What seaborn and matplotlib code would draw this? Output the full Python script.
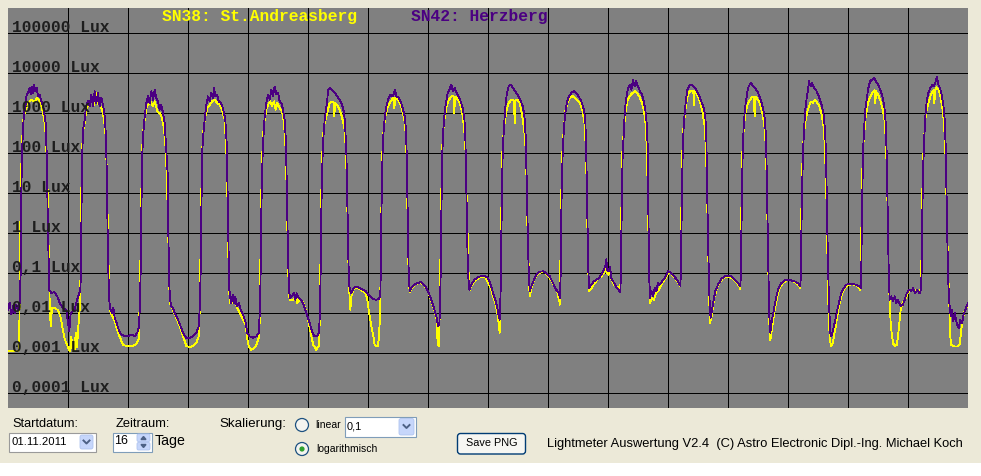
import pandas as pd
import seaborn as sns
import matplotlib.pyplot as plt
from matplotlib.patches import Rectangle, FancyBboxPatch, Circle
from matplotlib.ticker import NullLocator

W, H = 981, 476

# SN42 Herzberg (lila) - Stunden ab 01.11.2011 00:00 und Lux
hours_sn42 = [
    0.0, 0.67, 1.33, 2.0, 2.67, 3.33, 4.0, 4.67,
    5.07, 5.2, 5.33, 5.6, 6.0, 6.4, 6.93, 7.47, 8.0, 8.67, 9.07, 9.6, 10.0, 10.4, 10.93, 11.47, 12.0, 12.67, 13.33, 14.13, 14.67, 15.07, 15.47, 15.73, 16.0, 16.27, 16.53,
    17.33, 18.67, 19.73, 20.67, 22.0, 23.33, 24.0, 24.53, 25.07, 26.67, 27.6, 28.4, 28.93,
    29.2, 29.33, 29.47, 29.73, 30.0, 30.67, 31.2, 32.0, 32.67, 33.33, 34.0, 34.67, 35.33, 36.0, 36.67, 37.33, 38.13, 38.67, 39.2, 39.47, 39.73, 40.0, 40.4,
    40.8, 41.6, 42.13, 42.67, 43.47, 44.27, 45.33, 46.67, 48.0, 49.33, 50.67, 51.73, 52.4, 52.8,
    53.07, 53.2, 53.47, 53.73, 54.13, 54.67, 55.33, 56.0, 56.67, 57.33, 58.0, 58.67, 59.33, 60.0, 60.67, 61.33, 62.0, 62.67, 63.2, 64.0, 64.13, 64.4, 64.8,
    65.33, 66.0, 66.93, 68.0, 69.07, 70.0, 71.33, 72.67, 74.0, 75.33, 76.27, 76.8,
    77.07, 77.2, 77.47, 77.73, 78.27, 78.8, 79.47, 80.0, 80.67, 81.33, 82.0, 82.4, 82.93, 83.6, 84.27, 85.07, 85.73, 86.4, 86.93, 87.47, 87.73, 88.0, 88.27, 88.53, 88.93,
    89.33, 89.87, 90.4, 90.93, 91.47, 92.27, 93.07, 94.0, 94.93, 95.73, 96.67, 98.0, 99.33, 100.27, 100.8,
    101.07, 101.2, 101.47, 101.87, 102.27, 102.67, 103.33, 104.0, 104.67, 105.33, 106.0, 106.67, 107.33, 108.0, 108.67, 109.33, 110.0, 110.67, 111.2, 111.47, 111.73, 112.0, 112.4, 112.8,
    113.6, 114.4, 114.93, 115.47, 116.27, 117.07, 118.0, 118.93, 119.73, 120.67, 121.6, 122.67, 123.73, 124.4, 124.8,
    125.07, 125.2, 125.47, 125.87, 126.27, 126.67, 127.2, 127.73, 128.0, 128.67, 129.33, 130.0, 130.67, 131.73, 132.67, 133.33, 134.0, 134.53, 134.93, 135.33, 135.6, 135.87, 136.13, 136.4, 136.8,
    137.33, 138.13, 138.93, 140.0, 141.07, 142.13, 143.07, 144.0, 145.07, 146.13, 147.2, 148.27, 148.93,
    149.2, 149.33, 149.6, 149.87, 150.27, 150.8, 151.47, 152.27, 153.07, 154.0, 154.8, 155.33, 156.27, 157.07, 157.87, 158.67, 159.2, 159.47, 159.73, 160.0, 160.27, 160.67,
    161.33, 162.4, 163.73, 165.07, 166.4, 167.33, 168.27, 169.33, 170.4, 171.33, 172.0, 172.53, 172.8,
    173.07, 173.2, 173.47, 173.73, 174.13, 174.53, 175.07, 175.73, 176.53, 177.33, 178.0, 178.67, 179.47, 180.27, 181.07, 181.87, 182.53, 182.93, 183.2, 183.47, 183.73, 184.0, 184.53,
    185.33, 186.67, 188.0, 189.33, 190.67, 192.0, 193.07, 194.0, 194.93, 195.73, 196.27, 196.67, 196.93,
    197.2, 197.33, 197.6, 197.87, 198.27, 198.67, 199.07, 199.6, 200.27, 201.07, 202.0, 202.93, 204.0, 205.07, 205.87, 206.53, 207.07, 207.47, 207.73, 208.0, 208.27, 208.67,
    209.33, 210.27, 211.33, 212.67, 214.0, 215.33, 216.67, 218.0, 219.33, 220.27, 220.8,
    221.07, 221.2, 221.47, 221.87, 222.4, 222.93, 223.6, 224.4, 225.33, 226.4, 227.33, 228.27, 229.33, 230.27, 230.93, 231.33, 231.6, 231.87, 232.13, 232.4,
    233.33, 234.4, 235.33, 236.4, 237.33, 238.27, 238.93, 239.33, 239.73, 240.27, 240.8, 241.33, 242.4, 243.33, 244.27, 244.93,
    245.2, 245.33, 245.6, 245.87, 246.27, 246.67, 247.2, 247.87, 248.67, 249.33, 250.0, 250.67, 251.2, 252.0, 252.8, 253.6, 254.27, 254.93, 255.47, 255.87, 256.0, 256.27, 256.53, 256.8,
    257.33, 258.0, 258.67, 259.33, 260.0, 260.67, 261.6, 262.67, 264.0, 265.33, 266.67, 268.0, 268.93,
    269.2, 269.33, 269.6, 269.87, 270.27, 270.67, 271.2, 271.73, 272.53, 273.33, 274.27, 275.33, 276.27, 277.33, 278.27, 278.93, 279.33, 279.6, 279.87, 280.13, 280.4, 280.8, 281.07,
    281.6, 282.27, 282.93, 284.0, 285.33, 286.67, 288.0, 289.33, 290.67, 292.0, 292.93,
    293.2, 293.33, 293.6, 293.87, 294.27, 294.8, 295.47, 296.0, 296.67, 297.33, 298.0, 298.93, 300.0, 301.07, 302.0, 302.67, 303.2, 303.47, 303.73, 304.0, 304.27, 304.53, 304.93,
    305.6, 306.4, 307.33, 308.27, 309.33, 310.67, 312.0, 313.33, 314.67, 316.0, 316.93,
    317.2, 317.33, 317.6, 318.0, 318.4, 318.93, 319.47, 320.0, 320.4, 321.07, 321.6, 322.4, 323.2, 324.0, 324.8, 325.6, 326.27, 326.8, 327.2, 327.47, 327.73, 328.0, 328.4, 328.93, 329.33,
    330.0, 330.93, 331.73, 332.67, 333.33, 334.4, 335.33, 336.67, 338.0, 339.33, 340.67, 341.07,
    341.33, 341.47, 341.73, 342.0, 342.4, 342.93, 343.47, 344.0, 344.8, 345.6, 346.4, 347.2, 348.0, 348.93, 349.73, 350.53, 351.07, 351.47, 351.73, 352.0, 352.27, 352.67,
    353.33, 354.0, 354.67, 355.33, 356.0, 357.07, 358.0, 358.67, 359.47, 360.4, 361.33, 362.0, 362.93, 363.73, 364.67, 365.2,
    365.47, 365.6, 365.87, 366.13, 366.53, 366.93, 367.47, 368.13, 368.93, 369.73, 370.4, 371.07, 371.6, 372.13, 372.8, 373.47, 374.13, 374.67, 375.07, 375.33, 375.6, 375.87, 376.13, 376.53,
    377.07, 377.6, 378.13, 378.67, 379.47, 380.27, 380.93, 381.6, 382.27, 382.93, 383.73, 384.0,
]
lux_sn42 = [
    0.012, 0.018, 0.0092, 0.0147, 0.010, 0.016, 0.012, 0.018,
    0.1, 1.0, 10, 100, 380, 1000, 1470, 2900, 3200, 4200, 2900, 4600, 3200, 5100, 3500, 4200, 2600, 2900, 1950, 1470, 830, 560, 100, 10, 1.0, 0.18, 0.038,
    0.032, 0.033, 0.026, 0.018, 0.0133, 0.012, 0.0056, 0.0035, 0.010, 0.012, 0.0215, 0.029, 0.038,
    0.12, 1.0, 10, 100, 380, 680, 1470, 1950, 1470, 2900, 1470, 3500, 1780, 3200, 1470, 2400, 1470, 830, 260, 38, 3.2, 0.26, 0.026,
    0.0133, 0.010, 0.0133, 0.0076, 0.0056, 0.0038, 0.0029, 0.0026, 0.0026, 0.0029, 0.0026, 0.0032, 0.0046, 0.0178,
    0.12, 1.0, 10, 100, 320, 830, 1780, 2600, 1780, 3500, 2150, 3800, 2400, 1950, 1210, 1600, 1000, 560, 150, 22, 1.2, 0.083, 0.0215,
    0.0147, 0.0133, 0.0092, 0.0068, 0.0046, 0.0032, 0.0024, 0.0024, 0.0026, 0.0032, 0.0046, 0.0178,
    0.12, 1.0, 10, 120, 380, 830, 1780, 2600, 1950, 3200, 2400, 4200, 2600, 2900, 1950, 1780, 1470, 1000, 680, 180, 26, 2.2, 0.26, 0.038, 0.024,
    0.0178, 0.029, 0.0178, 0.026, 0.0147, 0.0178, 0.0121, 0.0092, 0.0062, 0.0032, 0.0026, 0.0024, 0.0026, 0.0032, 0.0121,
    0.12, 1.0, 10, 100, 320, 830, 1780, 2900, 2150, 3800, 2600, 4600, 2900, 3200, 1950, 1780, 1210, 680, 180, 22, 3.2, 0.32, 0.038, 0.024,
    0.026, 0.032, 0.0215, 0.031, 0.024, 0.0215, 0.0178, 0.0121, 0.0083, 0.0056, 0.0035, 0.0026, 0.0026, 0.0032, 0.0121,
    0.12, 1.0, 10, 100, 320, 680, 1210, 2150, 3800, 4200, 4000, 3500, 3200, 2600, 2150, 1780, 1330, 910, 380, 120, 18, 2.2, 0.26, 0.056, 0.035,
    0.032, 0.040, 0.046, 0.045, 0.040, 0.038, 0.035, 0.029, 0.026, 0.022, 0.0215, 0.022, 0.026,
    0.26, 2.2, 22, 120, 380, 910, 1600, 2400, 2900, 2600, 3800, 2600, 2400, 1950, 1330, 830, 380, 100, 10, 0.83, 0.1, 0.035,
    0.042, 0.051, 0.056, 0.059, 0.051, 0.042, 0.032, 0.0215, 0.0133, 0.0083, 0.0046, 0.0051, 0.0121,
    0.1, 0.83, 10, 100, 380, 830, 1600, 2900, 3800, 5100, 3500, 4200, 3200, 2600, 1950, 1330, 750, 260, 38, 3.8, 0.56, 0.1, 0.038,
    0.051, 0.068, 0.08, 0.083, 0.083, 0.075, 0.051, 0.032, 0.0215, 0.0133, 0.0083, 0.0068, 0.0178,
    0.1, 0.83, 10, 100, 320, 830, 1780, 3200, 4600, 5100, 4200, 3500, 2700, 2050, 1470, 910, 260, 22, 3.2, 0.56, 0.12, 0.035,
    0.046, 0.065, 0.091, 0.108, 0.11, 0.1, 0.083, 0.056, 0.038, 0.032, 0.024,
    0.1, 0.83, 10, 100, 460, 1000, 1950, 2600, 3200, 3500, 3100, 2600, 1950, 1260, 680, 80, 8.3, 0.83, 0.12, 0.042,
    0.051, 0.062, 0.068, 0.075, 0.091, 0.12, 0.15, 0.22, 0.12, 0.11, 0.14, 0.075, 0.056, 0.044, 0.038, 0.033,
    0.12, 0.83, 10, 100, 260, 1000, 2150, 3800, 5100, 3800, 6800, 4600, 6200, 4600, 3500, 2900, 1950, 1210, 560, 150, 22, 0.83, 0.068, 0.024,
    0.035, 0.026, 0.042, 0.035, 0.056, 0.051, 0.062, 0.075, 0.11, 0.1, 0.08, 0.062, 0.048,
    0.12, 0.83, 10, 100, 460, 1000, 2150, 3800, 4800, 5100, 4600, 3800, 2900, 1950, 1330, 830, 260, 22, 2.2, 0.32, 0.056, 0.01, 0.0076,
    0.0121, 0.0215, 0.035, 0.051, 0.071, 0.083, 0.086, 0.083, 0.068, 0.056, 0.046,
    0.12, 0.83, 10, 100, 460, 1330, 2600, 4200, 5100, 5600, 4600, 4200, 3200, 2150, 1330, 750, 260, 38, 3.8, 0.36, 0.046, 0.0083, 0.0032,
    0.0068, 0.0125, 0.026, 0.042, 0.056, 0.065, 0.068, 0.065, 0.062, 0.056, 0.046,
    0.12, 0.83, 10, 100, 380, 1210, 2400, 3800, 6200, 4600, 5800, 4200, 3800, 2900, 2150, 1470, 910, 380, 100, 10, 1.2, 0.18, 0.0178, 0.0032, 0.0026,
    0.0037, 0.0068, 0.0121, 0.0215, 0.032, 0.042, 0.051, 0.053, 0.053, 0.051, 0.046, 0.042,
    0.12, 0.83, 10, 100, 380, 1210, 2150, 3800, 6200, 6800, 7500, 6200, 5100, 3800, 2600, 1470, 560, 100, 10, 1.0, 0.12, 0.0215,
    0.026, 0.0196, 0.026, 0.0178, 0.0215, 0.0147, 0.0162, 0.0215, 0.031, 0.038, 0.035, 0.042, 0.032, 0.038, 0.031, 0.038,
    0.12, 0.83, 10, 56, 260, 830, 1950, 3200, 4200, 5100, 4600, 6200, 8200, 5100, 4200, 2900, 1600, 680, 150, 22, 2.2, 0.26, 0.056, 0.0178,
    0.0083, 0.0121, 0.0062, 0.01, 0.0056, 0.0042, 0.0068, 0.0056, 0.0092, 0.0121, 0.0162, 0.0178,
]

# SN38 St. Andreasberg (gelb)
hours_sn38 = [
    0.0, 1.33, 2.67, 4.0, 4.4, 4.67, 4.8, 4.93, 5.07, 5.47, 5.87, 6.27, 6.93, 8.0, 9.33, 10.67, 11.73, 12.67, 13.6, 14.4, 14.93, 15.47, 15.87, 16.13, 16.4, 16.67,
    17.07, 17.6, 18.67, 20.0, 20.93, 21.73, 22.4, 23.2, 24.0, 24.8, 25.33, 25.87, 26.67, 27.07, 27.6, 28.13, 28.67, 28.93,
    29.07, 29.2, 29.33, 29.6, 30.0, 30.67, 31.33, 32.27, 33.33, 34.4, 35.2, 35.73, 36.67, 37.6, 38.4, 39.07, 39.47, 39.73, 40.0, 40.27, 40.67,
    41.33, 42.13, 42.93, 44.0, 45.07, 46.0, 47.33, 48.67, 50.0, 51.33, 52.27, 52.67,
    52.93, 53.07, 53.33, 53.6, 54.0, 54.67, 55.33, 56.0, 57.07, 58.0, 58.67, 59.73, 60.67, 61.6, 62.4, 63.2, 63.73, 64.13, 64.4, 64.8,
    66.0, 67.33, 68.67, 70.0, 71.33, 72.67, 74.0, 75.33, 76.27, 76.8,
    76.93, 77.07, 77.33, 77.6, 78.13, 78.93, 79.73, 80.67, 81.6, 82.67, 83.73, 84.67, 85.6, 86.67, 87.33, 87.73, 88.0, 88.27, 88.67,
    89.6, 90.67, 92.0, 93.33, 94.4, 95.07, 95.73, 96.4, 97.33, 98.4, 99.33, 100.0, 100.53, 100.8,
    100.93, 101.07, 101.33, 101.73, 102.13, 102.67, 103.33, 104.0, 104.8, 105.6, 106.4, 107.07, 107.73, 108.67, 109.6, 110.4, 111.07, 111.47, 111.73, 112.0, 112.4, 112.8,
    114.0, 115.33, 115.73, 116.67, 117.73, 118.67, 119.73, 120.53, 121.33, 122.13, 123.33, 124.27, 124.67,
    124.93, 125.07, 125.33, 125.73, 126.13, 126.67, 127.33, 128.0, 128.67, 129.6, 130.27, 130.53, 130.8, 131.6, 132.4, 133.33, 134.0, 134.67, 135.2, 135.6, 136.0, 136.27, 136.67, 136.93,
    137.33, 138.13, 138.93, 140.0, 141.07, 142.13, 143.07, 143.73, 144.27, 144.93, 145.6, 146.27, 146.67, 147.33, 148.0, 148.4, 148.8,
    149.07, 149.2, 149.47, 149.73, 150.13, 150.93, 152.0, 153.07, 154.13, 154.53, 154.93, 155.73, 156.67, 157.6, 158.53, 159.07, 159.47, 159.73, 160.0, 160.27, 160.67,
    161.6, 162.67, 164.0, 165.33, 166.67, 167.73, 168.67, 169.6, 170.67, 171.47, 171.87, 172.27, 172.53, 172.8,
    172.93, 173.07, 173.33, 173.6, 174.0, 174.67, 175.47, 176.4, 177.33, 178.27, 178.53, 178.8, 179.73, 180.67, 181.6, 182.4, 182.93, 183.33, 183.73, 184.0, 184.27, 184.67,
    185.6, 186.93, 188.27, 189.6, 190.93, 192.0, 193.07, 194.0, 194.93, 195.73, 196.27, 196.67, 196.93,
    197.07, 197.2, 197.47, 197.73, 198.13, 198.67, 199.33, 200.27, 201.33, 202.4, 202.67, 202.93, 203.73, 204.67, 205.6, 206.4, 206.93, 207.33, 207.73, 208.13, 208.4, 208.67,
    209.6, 210.67, 212.0, 213.33, 214.67, 216.0, 217.33, 218.67, 219.73, 220.4, 220.8,
    220.93, 221.07, 221.33, 221.73, 222.27, 222.93, 223.73, 224.67, 225.6, 226.67, 227.73, 228.8, 229.87, 230.67, 231.2, 231.6, 231.87, 232.13, 232.53,
    233.6, 234.67, 236.0, 237.33, 238.27, 238.93, 239.47, 240.27, 240.8, 241.33, 242.4, 243.47, 244.4, 244.93,
    245.07, 245.2, 245.47, 245.73, 246.27, 246.93, 247.73, 248.67, 249.6, 250.67, 251.6, 252.67, 253.6, 254.4, 255.07, 255.6, 255.87, 256.13, 256.4, 256.8,
    257.6, 258.4, 259.33, 260.27, 261.33, 262.4, 263.33, 264.27, 265.33, 266.67, 268.0, 268.93,
    269.07, 269.2, 269.47, 269.73, 270.13, 270.67, 271.33, 272.13, 273.07, 274.13, 274.4, 274.67, 275.6, 276.67, 277.73, 278.67, 279.2, 279.6, 280.0, 280.27, 280.53, 280.8,
    281.33, 282.0, 282.67, 283.6, 284.67, 286.0, 287.33, 288.67, 290.0, 291.33, 292.4, 292.93,
    293.07, 293.2, 293.47, 293.73, 294.27, 294.93, 295.6, 296.4, 297.33, 298.27, 298.67, 299.07, 300.0, 300.93, 301.87, 302.67, 303.2, 303.6, 303.87, 304.13, 304.53, 304.93,
    305.33, 306.0, 306.8, 307.73, 308.67, 310.0, 311.33, 312.67, 314.0, 315.33, 316.4, 316.93,
    317.07, 317.2, 317.47, 317.87, 318.4, 319.07, 319.73, 320.4, 321.07, 321.87, 322.67, 323.6, 324.53, 325.33, 326.13, 326.67, 327.2, 327.6, 327.87, 328.27, 328.8, 329.33,
    329.87, 330.4, 331.2, 332.0, 332.8, 333.6, 334.67, 336.0, 337.33, 338.67, 340.0, 340.93,
    341.2, 341.33, 341.6, 341.87, 342.4, 343.07, 344.0, 344.93, 345.87, 346.67, 346.93, 347.2, 348.0, 348.93, 349.87, 350.67, 351.2, 351.6, 352.0, 352.27, 352.67,
    353.07, 353.6, 354.13, 354.8, 355.47, 356.0, 356.53, 357.07, 357.87, 358.93, 360.0, 361.33, 362.67, 364.0, 365.07,
    365.33, 365.47, 365.73, 366.0, 366.4, 366.93, 367.6, 368.4, 369.33, 370.13, 370.53, 370.93, 371.47, 372.27, 373.07, 373.87, 374.4, 374.93, 375.33, 375.73, 376.13, 376.53,
    376.8, 377.2, 378.0, 378.93, 380.0, 380.67, 381.2, 381.73, 382.4, 383.2, 384.0,
]
lux_sn38 = [
    0.0011, 0.0011, 0.0011, 0.0011, 0.0012, 0.0178, 0.12, 1.0, 10, 100, 380, 830, 1100, 1780, 2150, 1950, 2400, 1950, 1330, 750, 380, 80, 10, 1.0, 0.12, 0.0178,
    0.0046, 0.0133, 0.0133, 0.0118, 0.0083, 0.0046, 0.0026, 0.0018, 0.0014, 0.0011, 0.0026, 0.0011, 0.0012, 0.0032, 0.0014, 0.0046, 0.0121, 0.056,
    0.12, 1.0, 10, 100, 350, 560, 1210, 1780, 1950, 1600, 3200, 1780, 1600, 1210, 680, 260, 45, 5.6, 0.83, 0.12, 0.0121,
    0.0092, 0.0076, 0.0056, 0.0032, 0.0022, 0.0016, 0.0015, 0.0015, 0.0015, 0.0017, 0.0022, 0.0178,
    0.12, 1.0, 10, 100, 320, 680, 1330, 1600, 1950, 1470, 1950, 1100, 1000, 750, 420, 100, 8.3, 0.83, 0.068, 0.0178,
    0.0118, 0.0076, 0.0046, 0.0026, 0.0015, 0.0014, 0.0015, 0.0018, 0.0026, 0.0178,
    0.12, 1.0, 10, 100, 350, 830, 1330, 1600, 1950, 2150, 1780, 1600, 1210, 680, 120, 12, 0.83, 0.12, 0.0178,
    0.0178, 0.0196, 0.0121, 0.0083, 0.0062, 0.0051, 0.0022, 0.0014, 0.0012, 0.0013, 0.0016, 0.0021, 0.0026, 0.0178,
    0.12, 1.0, 10, 100, 320, 680, 1210, 1600, 1950, 1470, 1950, 1210, 1780, 1330, 1100, 560, 120, 12, 1.5, 0.18, 0.026, 0.0215,
    0.0215, 0.026, 0.0178, 0.022, 0.0196, 0.0147, 0.0083, 0.0046, 0.0026, 0.0016, 0.0012, 0.0015, 0.0056,
    0.12, 1.0, 10, 100, 320, 560, 830, 1210, 1780, 1950, 1780, 830, 1780, 1600, 1330, 910, 620, 380, 100, 12, 0.56, 0.083, 0.0215, 0.0121,
    0.026, 0.038, 0.042, 0.041, 0.038, 0.035, 0.031, 0.0215, 0.0121, 0.0068, 0.0038, 0.0024, 0.0016, 0.0015, 0.0015, 0.0026, 0.0083,
    0.12, 1.0, 10, 100, 320, 830, 1470, 1950, 2400, 1330, 2400, 2250, 1850, 1210, 680, 320, 68, 5.6, 0.46, 0.083, 0.033,
    0.042, 0.051, 0.056, 0.056, 0.048, 0.038, 0.027, 0.0178, 0.011, 0.0068, 0.0016, 0.0015, 0.0038, 0.0178,
    0.12, 1.0, 10, 100, 320, 750, 1470, 2150, 2600, 2600, 1000, 2600, 2250, 1780, 1100, 460, 150, 15, 1.2, 0.26, 0.083, 0.038,
    0.051, 0.065, 0.075, 0.08, 0.077, 0.056, 0.042, 0.026, 0.0178, 0.01, 0.0056, 0.0032, 0.0056,
    0.12, 1.0, 10, 100, 260, 560, 1100, 1780, 2150, 2050, 560, 2050, 2150, 1780, 910, 420, 180, 38, 1.8, 0.32, 0.068, 0.026,
    0.048, 0.075, 0.095, 0.108, 0.106, 0.086, 0.065, 0.044, 0.033, 0.0215, 0.0162,
    0.12, 1.0, 10, 100, 380, 1100, 1780, 2400, 2700, 2400, 2050, 1780, 1100, 510, 100, 5.6, 0.56, 0.1, 0.035,
    0.044, 0.056, 0.071, 0.083, 0.1, 0.145, 0.1, 0.091, 0.12, 0.068, 0.051, 0.046, 0.042, 0.038,
    0.12, 1.0, 10, 100, 320, 1000, 1950, 2600, 3100, 3500, 3200, 2500, 1780, 1100, 510, 100, 12, 2.2, 0.18, 0.0178,
    0.024, 0.0215, 0.033, 0.038, 0.051, 0.065, 0.08, 0.106, 0.096, 0.077, 0.059, 0.046,
    0.12, 1.0, 10, 100, 380, 830, 1780, 3100, 3600, 3500, 1600, 3500, 2900, 2050, 1100, 460, 120, 12, 0.56, 0.1, 0.0178, 0.0056,
    0.0076, 0.0147, 0.026, 0.042, 0.059, 0.074, 0.081, 0.08, 0.071, 0.059, 0.048, 0.04,
    0.12, 1.0, 10, 100, 380, 1000, 1470, 1950, 2400, 2600, 830, 2500, 2150, 1600, 910, 420, 120, 8.3, 0.83, 0.12, 0.0056, 0.0021,
    0.0032, 0.0062, 0.0133, 0.026, 0.042, 0.056, 0.065, 0.068, 0.063, 0.056, 0.048, 0.042,
    0.12, 1.0, 10, 100, 320, 680, 1100, 1470, 1950, 1780, 2150, 1850, 1470, 1000, 510, 180, 22, 1.5, 0.12, 0.0083, 0.002, 0.0015,
    0.0018, 0.0026, 0.0051, 0.011, 0.0196, 0.031, 0.041, 0.05, 0.052, 0.051, 0.046, 0.038,
    0.12, 1.0, 10, 100, 260, 830, 1780, 2600, 3300, 3700, 1780, 3500, 2900, 2050, 1260, 620, 180, 22, 1.2, 0.12, 0.0178,
    0.0056, 0.0026, 0.0017, 0.0015, 0.0016, 0.0026, 0.0056, 0.0121, 0.0178, 0.022, 0.033, 0.038, 0.038, 0.036, 0.037,
    0.12, 1.0, 10, 56, 215, 680, 1330, 1950, 3100, 3700, 1780, 3700, 4400, 3800, 2400, 1210, 560, 120, 12, 0.83, 0.083, 0.0178,
    0.0032, 0.0016, 0.0015, 0.00145, 0.00145, 0.0017, 0.0032, 0.0062, 0.01, 0.0133, 0.0162,
]

decades = [1e5, 1e4, 1e3, 1e2, 1e1, 1, 0.1, 0.01, 0.001, 0.0001]
decade_labels = ["100000 Lux", "10000 Lux", "1000 Lux", "100 Lux", "10 Lux", "1 Lux",
                 "0,1 Lux", "0,01 Lux", "0,001 Lux", "0,0001 Lux"]
n_days = 16

df = pd.concat([
    pd.DataFrame({"stunde": hours_sn38, "lux": lux_sn38, "sensor": "SN38"}),
    pd.DataFrame({"stunde": hours_sn42, "lux": lux_sn42, "sensor": "SN42"}),
], ignore_index=True)

YELLOW = "#ffff00"
PURPLE = "#4b0082"
BEIGE = "#ece9d8"

fig = plt.figure(figsize=(W / 100, H / 100), dpi=100, facecolor=BEIGE)

# Oberflaeche (Pixelkoordinaten)
ui = fig.add_axes([0, 0, 1, 1], zorder=0)
ui.set_xlim(0, W)
ui.set_ylim(H, 0)
ui.axis("off")

ax = fig.add_axes([8 / W, 1 - 408 / H, 960 / W, 400 / H], zorder=1)
ax.set_facecolor("#808080")
sns.lineplot(data=df, x="stunde", y="lux", hue="sensor", hue_order=["SN38", "SN42"],
             palette={"SN38": YELLOW, "SN42": PURPLE}, estimator=None, sort=False,
             lw=0.6, antialiased=False, legend=False, ax=ax)
ax.set_yscale("log")
ax.set_xlim(0, 24 * n_days)
ax.set_ylim(10 ** -4.375, 10 ** 5.625)
ax.set_yticks(decades)
ax.set_xticks(range(24, 24 * n_days, 24))
ax.yaxis.set_minor_locator(NullLocator())
ax.set_axisbelow(True)
ax.grid(True, color="black", lw=0.6, antialiased=False)
ax.tick_params(length=0, labelleft=False, labelbottom=False)
ax.set_xlabel("")
ax.set_ylabel("")
for s in ax.spines.values():
    s.set_visible(False)

mono = dict(family="Liberation Mono", weight="bold", fontsize=11.7)
for v, lab in zip(decades, decade_labels):
    ax.annotate(lab, (0.004, v), xycoords=ax.get_yaxis_transform(), xytext=(0, 1.0),
                textcoords="offset points", va="baseline", ha="left", color="#1e1e1e",
                zorder=5, **mono)
ax.text((162 - 8) / 960, (408 - 21.5) / 400, "SN38: St.Andreasberg", transform=ax.transAxes,
        color=YELLOW, va="baseline", ha="left", **mono)
ax.text((411 - 8) / 960, (408 - 21.5) / 400, "SN42: Herzberg", transform=ax.transAxes,
        color=PURPLE, va="baseline", ha="left", **mono)

# untere Bedienleiste
ui.add_patch(Rectangle((0, 463), W, 14, facecolor="white", edgecolor="none"))
gui = dict(family="Liberation Sans", color="black", va="center")
BLUE_BTN = "#c6d6fb"
ui.text(12, 424, "Startdatum:", fontsize=9.2, **gui)
ui.add_patch(Rectangle((8.5, 432.5), 87, 19, facecolor="white", edgecolor="#9a9a9a", lw=0.8))
ui.text(11.5, 442, "01.11.2011", fontsize=8.1, **gui)
ui.add_patch(FancyBboxPatch((80, 435), 13, 14, boxstyle="round,pad=0,rounding_size=2",
                            facecolor=BLUE_BTN, edgecolor="#b0c4ef", lw=0.6))
ui.plot([83.5, 86.5, 89.5], [440.5, 443.5, 440.5], color="#4d6185", lw=1.4)

ui.text(116, 424, "Zeitraum:", fontsize=9.3, **gui)
ui.add_patch(Rectangle((112.5, 432.5), 39, 19, facecolor="white", edgecolor="#7f9db9", lw=0.8))
ui.text(114, 441.5, "16", fontsize=8.9, **gui)
ui.add_patch(FancyBboxPatch((137, 434), 13, 7.5, boxstyle="round,pad=0,rounding_size=1.5",
                            facecolor=BLUE_BTN, edgecolor="#b0c4ef", lw=0.6))
ui.add_patch(FancyBboxPatch((137, 442.5), 13, 7.5, boxstyle="round,pad=0,rounding_size=1.5",
                            facecolor=BLUE_BTN, edgecolor="#b0c4ef", lw=0.6))
ui.fill([141, 143.5, 146], [439.5, 436.5, 439.5], color="#4d6185")
ui.fill([141, 143.5, 146], [444.5, 447.5, 444.5], color="#4d6185")
ui.text(155, 441.5, "Tage", fontsize=10.2, **gui)

ui.text(219, 424, "Skalierung:", fontsize=9.6, **gui)
ui.add_patch(Circle((302, 425), 6.5, facecolor="#f4f4f0", edgecolor="#1c5180", lw=0.9))
ui.text(315, 425, "linear", fontsize=7.5, **gui)
ui.add_patch(Rectangle((344.5, 416.5), 71, 20, facecolor="white", edgecolor="#7f9db9", lw=0.8))
ui.text(347, 426.5, "0,1", fontsize=7.9, **gui)
ui.add_patch(FancyBboxPatch((399, 418.5), 15, 16.5, boxstyle="round,pad=0,rounding_size=2",
                            facecolor=BLUE_BTN, edgecolor="#b0c4ef", lw=0.6))
ui.plot([403.5, 406.5, 409.5], [425.0, 428.0, 425.0], color="#4d6185", lw=1.4)
ui.add_patch(Circle((302, 449), 6.5, facecolor="#f4f4f0", edgecolor="#1c5180", lw=0.9))
ui.add_patch(Circle((302, 449), 2.6, facecolor="#2fa12f", edgecolor="none"))
ui.text(316, 449, "logarithmisch", fontsize=7.5, **gui)

ui.add_patch(FancyBboxPatch((457.5, 433.5), 68, 20.5, boxstyle="round,pad=0,rounding_size=3",
                            facecolor="#f6f6f2", edgecolor="#003c74", lw=1.0))
ui.text(491.5, 443.5, "Save PNG", fontsize=7.8, ha="center", **gui)
ui.text(547, 444, "Lightmeter Auswertung V2.4  (C) Astro Electronic Dipl.-Ing. Michael Koch",
        fontsize=9.3, **gui)

fig.savefig("out.png", dpi=100, facecolor=BEIGE)
